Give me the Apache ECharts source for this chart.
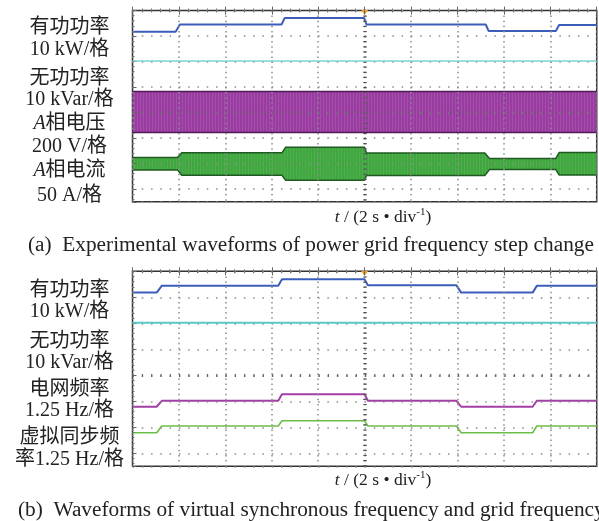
<!DOCTYPE html>
<html>
<head>
<meta charset="utf-8">
<script src="https://cdn.jsdelivr.net/npm/echarts@6.0.0/dist/echarts.min.js"></script>
<style>
	html, body { margin: 0; padding: 0; background: #fff; }
	#chart { width: 599px; height: 521px; }
</style>
</head>
<body>
<div id="chart"></div>
<script>
// x: time in divisions (2 s/div), y: screen divisions counted from the top
// (a) grid frequency step
const tPowerA = [0, 0.93, 1.02, 3.21, 3.28, 4.99, 5.04, 7.61, 7.67, 9.12, 9.19, 10];
const activeA = [0.83, 0.83, 0.55, 0.55, 0.29, 0.29, 0.55, 0.55, 0.80, 0.80, 0.57, 0.57];
const tReactive = [0, 10];
const reactiveA = [1.98, 1.98];
const tVoltA = [0, 10];
const voltTopA = [3.18, 3.18];
const voltBottomA = [4.78, 4.78];
const tCurrentA = [0, 0.97, 1.06, 3.22, 3.3, 5.0, 5.04, 7.59, 7.69, 9.12, 9.19, 10];
const currentTopA = [5.76, 5.76, 5.58, 5.58, 5.36, 5.36, 5.59, 5.59, 5.80, 5.80, 5.57, 5.57];
const currentBottomA = [6.25, 6.25, 6.46, 6.46, 6.66, 6.66, 6.47, 6.47, 6.24, 6.24, 6.45, 6.45];

// (b) virtual synchronous frequency and grid frequency
const tB = [0, 0.52, 0.63, 3.14, 3.22, 5.0, 5.07, 6.98, 7.08, 8.62, 8.71, 10];
const activeB = [0.82, 0.82, 0.56, 0.56, 0.31, 0.31, 0.54, 0.54, 0.82, 0.82, 0.56, 0.56];
const reactiveB = [1.98, 1.98];
const gridFreqB = [5.21, 5.21, 4.98, 4.98, 4.73, 4.73, 4.98, 4.98, 5.21, 5.21, 4.98, 4.98];
const virtualFreqB = [6.21, 6.21, 5.95, 5.95, 5.75, 5.75, 5.95, 5.95, 6.21, 6.21, 5.95, 5.95];

const labelsA = ['有功功率', '10 kW/格', '无功功率', '10 kVar/格', '{i|A}相电压', '200 V/格', '{i|A}相电流', '50 A/格'];
const labelsB = ['有功功率', '10 kW/格', '无功功率', '10 kVar/格', '电网频率', '1.25 Hz/格', '虚拟同步频', '率1.25 Hz/格'];
const labelYA = [28, 50, 79, 100, 124, 147, 171, 196];
const labelYB = [291, 312, 342, 363, 390, 411, 438, 460];
const axisTitle = '{i|t} / (2 s • div{sup|-1})';
const captionA = '(a)  Experimental waveforms of power grid frequency step change';
const captionB = '(b)  Waveforms of virtual synchronous frequency and grid frequency';

const FONT = '"Liberation Serif", "Noto Sans CJK SC", serif';

const pair = (xs, ys) => xs.map((x, i) => [x, ys[i]]);

// faint vertical striping, like the individual sine periods of the trace
const stripes = (base, light) => {
	const c = document.createElement('canvas');
	c.width = 3;
	c.height = 4;
	const ctx = c.getContext('2d');
	ctx.fillStyle = base;
	ctx.fillRect(0, 0, 3, 4);
	ctx.fillStyle = light;
	ctx.fillRect(2, 0, 1, 4);
	return { image: c, repeat: 'repeat' };
};

const xAxes = (gridIndex) => [
	{
		type: 'value', gridIndex, min: 0, max: 10, interval: 1, position: 'bottom', z: 5,
		axisLabel: { show: false },
		axisLine: { show: false },
		axisTick: { show: true, inside: true, length: 4, lineStyle: { color: '#666' } },
		minorTick: { show: true, splitNumber: 5, length: 2, lineStyle: { color: '#777' } },
		splitLine: { show: true, lineStyle: { color: '#8c8c8c', width: 1.5, type: [1.5, 3.6] } }
	},
	{
		type: 'value', gridIndex, min: 0, max: 10, interval: 1, position: 'top', z: 5,
		axisLabel: { show: false },
		axisLine: { show: false },
		axisTick: { show: true, inside: true, length: 4, lineStyle: { color: '#666' } },
		minorTick: { show: true, splitNumber: 5, length: 2, lineStyle: { color: '#777' } },
		splitLine: { show: false }
	}
];
const yAxis = (gridIndex) => ({
	type: 'value', gridIndex, min: 0, max: 7.5, interval: 1, inverse: true, z: 5,
	axisLabel: { show: false },
	axisLine: { show: false },
	axisTick: { show: true, inside: true, length: 4, lineStyle: { color: '#666' } },
	minorTick: { show: true, splitNumber: 5, length: 2, lineStyle: { color: '#777' } },
	splitLine: { show: true, lineStyle: { color: '#8c8c8c', width: 1.5, type: [1.5, 7.78] } }
});

const trace = (name, grid, data, color, width) => ({
	name, type: 'line', xAxisIndex: grid * 2, yAxisIndex: grid, data,
	symbol: 'none', silent: true, animation: false,
	lineStyle: { color, width }
});
const centerLines = {
	symbol: 'none', silent: true, animation: false,
	label: { show: false },
	data: [
		{ xAxis: 5, lineStyle: { color: '#555', width: 3.5, type: [1.2, 3.9] } },
		{ yAxis: 4, lineStyle: { color: '#666', width: 3, type: [1.2, 8.1] } }
	]
};
const trigger = {
	symbol: 'triangle', symbolSize: [7, 5], symbolRotate: 180, silent: true,
	itemStyle: { color: '#f0a020' }, label: { show: false },
	data: [{ coord: [5, 0.08] }]
};
// envelope of a fast sine trace: filled polygon between top and bottom edges
const band = (name, grid, xs, top, bottom, fill, edge) => [
	{
		name, type: 'custom', xAxisIndex: grid * 2, yAxisIndex: grid, silent: true, z: 2,
		data: [[xs[0], top[0]]],
		renderItem: (params, api) => {
			const upper = xs.map((x, i) => api.coord([x, top[i]]));
			const lower = xs.map((x, i) => api.coord([x, bottom[i]])).reverse();
			return { type: 'polygon', shape: { points: upper.concat(lower) }, style: { fill } };
		}
	},
	trace(name + 'Top', grid, pair(xs, top), edge, 1.5),
	trace(name + 'Bottom', grid, pair(xs, bottom), edge, 1.5)
];

const label = (text, x, y, size, align) => ({
	type: 'text', x, y, silent: true,
	style: {
		text, fill: '#222', font: `${size}px ${FONT}`,
		align: align || 'center', verticalAlign: 'middle',
		rich: {
			i: { fontStyle: 'italic', fontFamily: FONT, fontSize: size, fill: '#222' },
			sup: { fontFamily: FONT, fontSize: Math.round(size * 0.6), fill: '#222', verticalAlign: 'top', padding: [0, 0, 9, 0] }
		}
	}
});

const chart = echarts.init(document.getElementById('chart'), null, { renderer: 'canvas' });
chart.setOption({
	animation: false,
	backgroundColor: '#fff',
	grid: [
		{ left: 132.5, top: 10.5, width: 464.2, height: 191.25, show: true, borderColor: '#333', borderWidth: 1.5, backgroundColor: '#fff' },
		{ left: 132.5, top: 271.3, width: 464.2, height: 195, show: true, borderColor: '#333', borderWidth: 1.5, backgroundColor: '#fff' }
	],
	xAxis: [...xAxes(0), ...xAxes(1)],
	yAxis: [yAxis(0), yAxis(1)],
	series: [
		...band('voltA', 0, tVoltA, voltTopA, voltBottomA, stripes('#993ca0', '#a64dad'), '#4e1d55'),
		...band('currentA', 0, tCurrentA, currentTopA, currentBottomA, stripes('#40a640', '#4faf4d'), '#1f5a22'),
		trace('activeA', 0, pair(tPowerA, activeA), '#3d5dbb', 2),
		Object.assign(trace('reactiveA', 0, pair(tReactive, reactiveA), '#79d3d3', 1.5), { z: 6, markLine: centerLines, markPoint: trigger }),
		trace('activeB', 1, pair(tB, activeB), '#3d5dbb', 2),
		trace('gridFreqB', 1, pair(tB, gridFreqB), '#a33fa6', 2),
		trace('virtualFreqB', 1, pair(tB, virtualFreqB), '#6cbf45', 1.6),
		Object.assign(trace('reactiveB', 1, pair(tReactive, reactiveB), '#5cc6c6', 2), { z: 6, markLine: centerLines, markPoint: trigger })
	],
	graphic: [
		...labelsA.map((t, i) => label(t, 69.5, labelYA[i], 20)),
		...labelsB.map((t, i) => label(t, 69.5, labelYB[i], 20)),
		label(axisTitle, 383, 217, 17.5),
		label(axisTitle, 383, 480, 17.5),
		label(captionA, 28, 245, 21.3, 'left'),
		label(captionB, 18, 510, 21.3, 'left')
	]
});
</script>
</body>
</html>
